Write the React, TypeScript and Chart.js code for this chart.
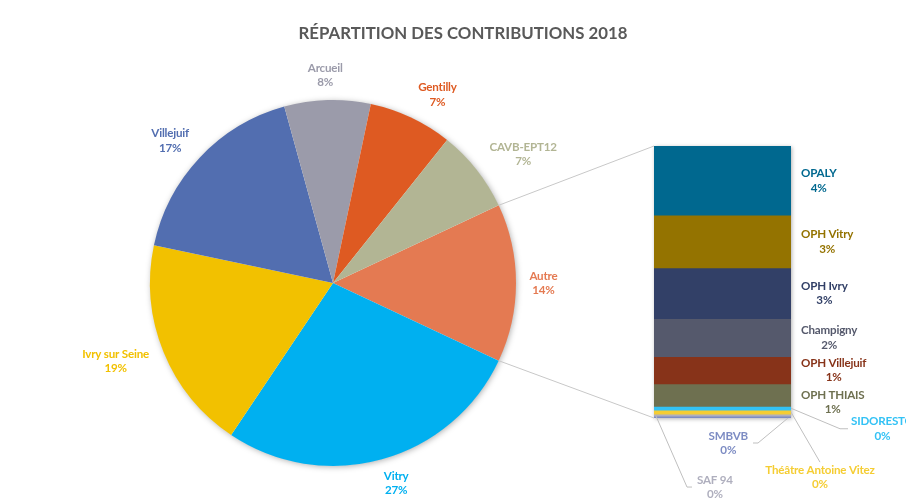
import React, { useEffect, useRef } from "react";
import { Chart, registerables } from "chart.js";

Chart.register(...registerables);

// ---------- DATA ----------
const TITLE = "RÉPARTITION DES CONTRIBUTIONS 2018";

const pieLabels = ["Autre", "Vitry", "Ivry sur Seine", "Villejuif", "Arcueil", "Gentilly", "CAVB-EPT12"];
const pieValues = [13.95, 27.4, 18.9, 17.4, 7.6, 7.4, 7.3];
const pieColors = ["#E47A52", "#00B0F0", "#F2C100", "#526EB0", "#9B9BAA", "#DE5A22", "#B2B594"];

const barLabels = [
  "OPALY",
  "OPH Vitry",
  "OPH Ivry",
  "Champigny",
  "OPH Villejuif",
  "OPH THIAIS",
  "SIDORESTO",
  "Théâtre Antoine Vitez",
  "SAF 94",
  "SMBVB",
];
const barValues = [3.55, 2.7, 2.6, 1.95, 1.4, 1.15, 0.2, 0.2, 0.1, 0.1];
const barColors = [
  "#00688F",
  "#947300",
  "#324067",
  "#55596C",
  "#873319",
  "#6E7050",
  "#33C2F5",
  "#F5CD33",
  "#AFAFBE",
  "#7D8CC3",
];

// ---------- LAYOUT / STYLE ----------
const W = 906;
const H = 504;
const FONT_FAMILY = "Lato, 'Open Sans', sans-serif";
const LABEL_FONT = `bold 11.6px ${FONT_FAMILY}`;
const LABEL_SPACING = "-0.2px";
const TITLE_FONT = `bold 16.8px ${FONT_FAMILY}`;
const TITLE_COLOR = "#595959";
const TITLE_POS = { x: 463, y: 34 };
const LINE_GAP = 14.5;
const PIE_LABEL_GAP = 12;
const CONNECTOR_COLOR = "#C8C8C8";
const LEADER_COLOR = "#BFBFBF";

// placement of bar labels: null = beside the segment; otherwise leader line
const BAR_LABEL_PLACEMENT: any[] = [
  null,
  null,
  null,
  null,
  null,
  null,
  { from: "rightMid", pts: [[49, 20.5], [57, 20.5]], anchor: "left", gap: 3 },
  { from: "rightMid", pts: [[29, 50]], anchor: "top", gap: 2 },
  { from: "leftBottom", pts: [[31, 71], [36, 71]], anchor: "left", gap: 5 },
  { from: "rightBottom", pts: [[-30, 25], [-35, 25]], anchor: "right", gap: 5 },
];

const total = pieValues.reduce((a, b) => a + b, 0);
const barTotal = barValues.reduce((a, b) => a + b, 0);
const pct = (v: number) => Math.round((v / total) * 100) + "%";

function setLabelFont(ctx: any) {
  ctx.font = LABEL_FONT;
  try {
    ctx.letterSpacing = LABEL_SPACING;
  } catch (e) {}
}

function drawBlock(ctx: CanvasRenderingContext2D, name: string, p: string, cx: number, cy: number, color: string) {
  ctx.fillStyle = color;
  ctx.textAlign = "center";
  ctx.textBaseline = "middle";
  ctx.fillText(name, cx, cy - LINE_GAP / 2);
  ctx.fillText(p, cx, cy + LINE_GAP / 2);
}

const titlePlugin = {
  id: "customTitle",
  afterDraw(chart: any) {
    const ctx = chart.ctx;
    ctx.save();
    ctx.font = TITLE_FONT;
    ctx.fillStyle = TITLE_COLOR;
    ctx.textAlign = "center";
    ctx.textBaseline = "middle";
    ctx.fillText(TITLE, TITLE_POS.x, TITLE_POS.y);
    ctx.restore();
  },
};

const pieShadowPlugin = {
  id: "pieShadow",
  beforeDatasetsDraw(chart: any) {
    const arc = chart.getDatasetMeta(0).data[0];
    if (!arc) return;
    const ctx = chart.ctx;
    ctx.save();
    ctx.shadowColor = "rgba(0,0,0,0.35)";
    ctx.shadowBlur = 6;
    ctx.shadowOffsetX = 1;
    ctx.shadowOffsetY = 1;
    ctx.fillStyle = "#ffffff";
    ctx.beginPath();
    ctx.arc(arc.x, arc.y, arc.outerRadius - 0.5, 0, Math.PI * 2);
    ctx.fill();
    ctx.restore();
  },
};

const pieLabelPlugin = {
  id: "pieLabels",
  afterDatasetsDraw(chart: any) {
    const ctx = chart.ctx;
    const arcs = chart.getDatasetMeta(0).data;
    ctx.save();
    setLabelFont(ctx);
    arcs.forEach((arc: any, i: number) => {
      const mid = (arc.startAngle + arc.endAngle) / 2;
      const c = Math.cos(mid);
      const s = Math.sin(mid);
      const name = pieLabels[i];
      const p = pct(pieValues[i]);
      const hw = Math.max(ctx.measureText(name).width, ctx.measureText(p).width) / 2;
      const hh = 13;
      const R = arc.outerRadius + PIE_LABEL_GAP;
      const cx = arc.x + R * c + hw * Math.max(-1, Math.min(1, c * 3)) * 1.1;
      const cy = arc.y + R * s + hh * s;
      drawBlock(ctx, name, p, cx, cy, pieColors[i]);
    });
    ctx.restore();
  },
};

function barGeom(chart: any) {
  const metas = barLabels.map((_, i) => chart.getDatasetMeta(i).data[0]);
  const first = metas[0];
  const last = metas[metas.length - 1];
  const left = first.x - first.width / 2;
  const right = first.x + first.width / 2;
  const top = Math.min(first.base, first.y);
  const bottom = Math.max(last.base, last.y);
  return { metas, left, right, top, bottom };
}

const barShadowPlugin = {
  id: "barShadow",
  beforeDatasetsDraw(chart: any) {
    const g = barGeom(chart);
    const ctx = chart.ctx;
    ctx.save();
    ctx.shadowColor = "rgba(0,0,0,0.3)";
    ctx.shadowBlur = 4;
    ctx.shadowOffsetX = 1;
    ctx.shadowOffsetY = 1;
    ctx.fillStyle = "#ffffff";
    ctx.fillRect(g.left, g.top, g.right - g.left, g.bottom - g.top);
    ctx.restore();
  },
};

const barLabelPlugin = {
  id: "barLabels",
  afterDatasetsDraw(chart: any) {
    const g = barGeom(chart);
    const ctx = chart.ctx;
    ctx.save();
    setLabelFont(ctx);
    let prevY = -Infinity;
    g.metas.forEach((el: any, i: number) => {
      const name = barLabels[i];
      const p = pct(barValues[i]);
      const color = barColors[i];
      const segTop = Math.min(el.y, el.base);
      const segBot = Math.max(el.y, el.base);
      const place = BAR_LABEL_PLACEMENT[i];
      const nameW = ctx.measureText(name).width;
      const pW = ctx.measureText(p).width;
      const bw = Math.max(nameW, pW);
      if (!place) {
        let cy = (segTop + segBot) / 2;
        if (cy < prevY + 32) cy = prevY + 32;
        prevY = cy;
        const left = g.right + 10;
        ctx.fillStyle = color;
        ctx.textBaseline = "middle";
        ctx.textAlign = "left";
        ctx.fillText(name, left, cy - LINE_GAP / 2);
        ctx.textAlign = "center";
        ctx.fillText(p, left + nameW / 2, cy + LINE_GAP / 2);
        return;
      }
      let ax = g.right;
      let ay = (segTop + segBot) / 2;
      if (place.from === "leftBottom") {
        ax = g.left + 2;
        ay = segBot;
      } else if (place.from === "rightBottom") {
        ax = g.right - 3;
        ay = segBot;
      }
      ctx.strokeStyle = LEADER_COLOR;
      ctx.lineWidth = 1;
      ctx.beginPath();
      ctx.moveTo(ax, ay);
      place.pts.forEach((pt: number[]) => ctx.lineTo(ax + pt[0], ay + pt[1]));
      ctx.stroke();
      const end = place.pts[place.pts.length - 1];
      const ex = ax + end[0];
      const ey = ay + end[1];
      let cx = ex;
      let cy = ey;
      if (place.anchor === "left") {
        cx = ex + place.gap + bw / 2;
      } else if (place.anchor === "right") {
        cx = ex - place.gap - bw / 2;
      } else if (place.anchor === "top") {
        cy = ey + place.gap + 13;
      }
      drawBlock(ctx, name, p, cx, cy, color);
    });
    ctx.restore();
  },
};

export default function App() {
  const pieRef = useRef<HTMLCanvasElement>(null);
  const barRef = useRef<HTMLCanvasElement>(null);

  useEffect(() => {
    const pie = new Chart(pieRef.current as HTMLCanvasElement, {
      type: "pie",
      data: {
        labels: pieLabels,
        datasets: [
          {
            data: pieValues,
            backgroundColor: pieColors,
            borderWidth: 0,
            hoverBorderWidth: 0,
            hoverOffset: 0,
            offset: 0,
          } as any,
        ],
      },
      options: {
        responsive: false,
        animation: false,
        events: [],
        rotation: 90 - (pieValues[0] / total) * 180,
        layout: { padding: { left: 150, top: 100, right: 390, bottom: 38 } },
        plugins: {
          legend: { display: false },
          tooltip: { enabled: false },
          title: { display: false },
        },
      } as any,
      plugins: [pieShadowPlugin, pieLabelPlugin, titlePlugin],
    });

    const connectorPlugin = {
      id: "connectors",
      afterDatasetsDraw(chart: any) {
        const arc: any = pie.getDatasetMeta(0).data[0];
        if (!arc) return;
        const g = barGeom(chart);
        const ctx = chart.ctx;
        const r = arc.outerRadius;
        const p1 = { x: arc.x + r * Math.cos(arc.startAngle), y: arc.y + r * Math.sin(arc.startAngle) };
        const p2 = { x: arc.x + r * Math.cos(arc.endAngle), y: arc.y + r * Math.sin(arc.endAngle) };
        ctx.save();
        ctx.strokeStyle = CONNECTOR_COLOR;
        ctx.lineWidth = 1;
        ctx.beginPath();
        ctx.moveTo(p1.x, p1.y);
        ctx.lineTo(g.left, g.top);
        ctx.moveTo(p2.x, p2.y);
        ctx.lineTo(g.left, g.bottom);
        ctx.stroke();
        ctx.restore();
      },
    };

    const bar = new Chart(barRef.current as HTMLCanvasElement, {
      type: "bar",
      data: {
        labels: [""],
        datasets: barLabels.map((l, i) => ({
          label: l,
          data: [barValues[i]],
          backgroundColor: barColors[i],
          borderWidth: 0,
          barPercentage: 1,
          categoryPercentage: 1,
        })),
      },
      options: {
        responsive: false,
        animation: false,
        events: [],
        layout: { padding: { left: 654, right: 115, top: 146, bottom: 86 } },
        scales: {
          x: { display: false, stacked: true },
          y: { display: false, stacked: true, reverse: true, min: 0, max: barTotal },
        },
        plugins: {
          legend: { display: false },
          tooltip: { enabled: false },
        },
      } as any,
      plugins: [barShadowPlugin, connectorPlugin, barLabelPlugin],
    });

    return () => {
      bar.destroy();
      pie.destroy();
    };
  }, []);

  return (
    <div style={{ position: "absolute", left: 0, top: 0, width: W, height: H, background: "#ffffff", overflow: "hidden" }}>
      <canvas ref={pieRef} width={W} height={H} style={{ position: "absolute", left: 0, top: 0 }} />
      <canvas ref={barRef} width={W} height={H} style={{ position: "absolute", left: 0, top: 0 }} />
    </div>
  );
}
